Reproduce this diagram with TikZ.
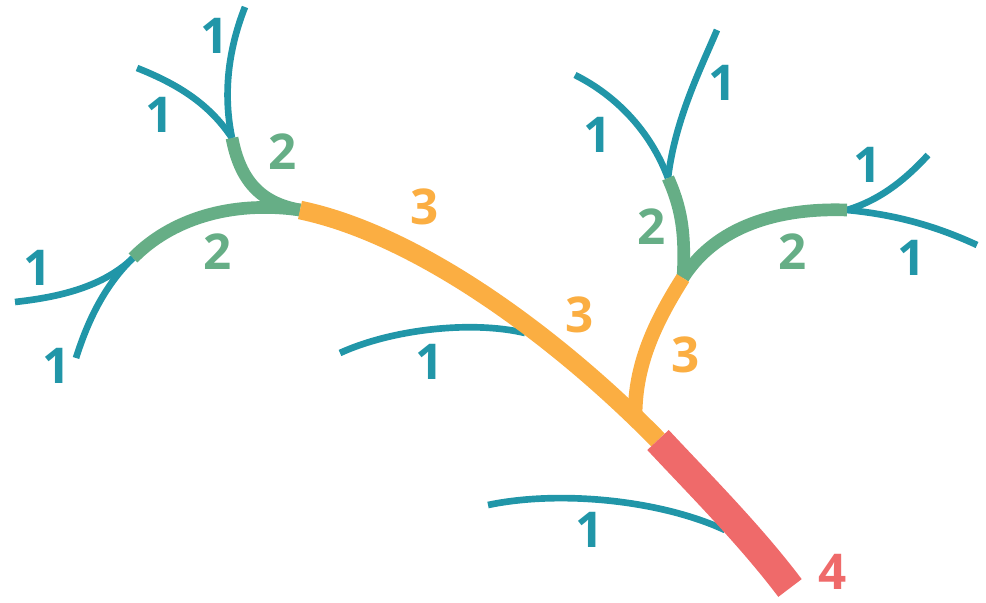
\documentclass[tikz,border=0pt]{standalone}
\usepackage{fontspec}
\setmainfont{Open Sans}
\usetikzlibrary{positioning}

\definecolor{ordone}{RGB}{33,150,168}
\definecolor{ordtwo}{RGB}{102,174,134}
\definecolor{ordthree}{RGB}{251,174,66}
\definecolor{ordfour}{RGB}{239,106,106}

\tikzset{
  one/.style={draw=ordone,line width=5pt},
  two/.style={draw=ordtwo,line width=9.5pt},
  three/.style={draw=ordthree,line width=14pt},
  four/.style={draw=ordfour,line width=22pt},
  lbl/.style={font=\fontsize{37}{40}\selectfont\bfseries,inner sep=0pt}
}

\begin{document}
\begin{tikzpicture}[x=0.75pt,y=-0.75pt]
\useasboundingbox (0,0) rectangle (986,603);

% junctions
\coordinate (mouth) at (790,588);
\coordinate (jred) at (658,440);
\coordinate (jbr) at (635,417);
\coordinate (jleft) at (300,210);
\coordinate (jright) at (683,278);
\coordinate (jlu) at (232,138);
\coordinate (jll) at (133,258);
\coordinate (jru) at (668,178);
\coordinate (jrr) at (847,210);

% first order streams
\draw[one] (jlu) .. controls (222,90) and (230,45) .. (245,7);
\draw[one] (jlu) .. controls (210,105) and (180,85) .. (137,68);
\draw[one] (jll) .. controls (100,290) and (50,298) .. (15,302);
\draw[one] (jll) .. controls (105,285) and (88,320) .. (76,358);
\draw[one] (jru) .. controls (650,130) and (615,95) .. (575,75);
\draw[one] (jru) .. controls (675,120) and (700,70) .. (717,30);
\draw[one] (jrr) .. controls (880,200) and (905,180) .. (928,155);
\draw[one] (jrr) .. controls (900,215) and (940,228) .. (977,245);
\draw[one] (340,353) .. controls (390,330) and (470,320) .. (525,333);
\draw[one] (488,505) .. controls (560,490) and (660,500) .. (725,530);

% second order
\draw[two] (jlu) .. controls (240,180) and (260,203) .. (jleft);
\draw[two] (jleft) .. controls (230,200) and (170,220) .. (jll);
\draw[two] (jright) .. controls (686,230) and (680,205) .. (jru);
\draw[two] (jright) .. controls (720,220) and (790,208) .. (jrr);

% third order
\draw[three] (jleft) .. controls (420,235) and (560,340) .. (jred);
\draw[three,line width=11pt] (jright) .. controls (650,330) and (635,370) .. (jbr);

% fourth order
\draw[four] (jred) .. controls (700,485) and (750,535) .. (mouth);

% labels
\node[lbl,text=ordone] (a1) at (215,36) {1};
\node[lbl,text=ordone] (a2) at (160,115) {1};
\node[lbl,text=ordone] (a3) at (38,268) {1};
\node[lbl,text=ordone] (a4) at (57,366) {1};
\node[lbl,text=ordone] (a5) at (430,362) {1};
\node[lbl,text=ordone] (a6) at (598,135) {1};
\node[lbl,text=ordone] (a7) at (723,83) {1};
\node[lbl,text=ordone] (a8) at (868,165) {1};
\node[lbl,text=ordone] (a9) at (912,258) {1};
\node[lbl,text=ordone] (a10) at (590,530) {1};
\node[lbl,text=ordtwo] (b1) at (283,152) {2};
\node[lbl,text=ordtwo] (b2) at (218,252) {2};
\node[lbl,text=ordtwo] (b3) at (652,227) {2};
\node[lbl,text=ordtwo] (b4) at (793,252) {2};
\node[lbl,text=ordthree] (c1) at (425,207) {3};
\node[lbl,text=ordthree] (c2) at (580,315) {3};
\node[lbl,text=ordthree] (c3) at (686,355) {3};
\node[lbl,text=ordfour] (d1) at (833,572) {4};

\end{tikzpicture}
\end{document}
